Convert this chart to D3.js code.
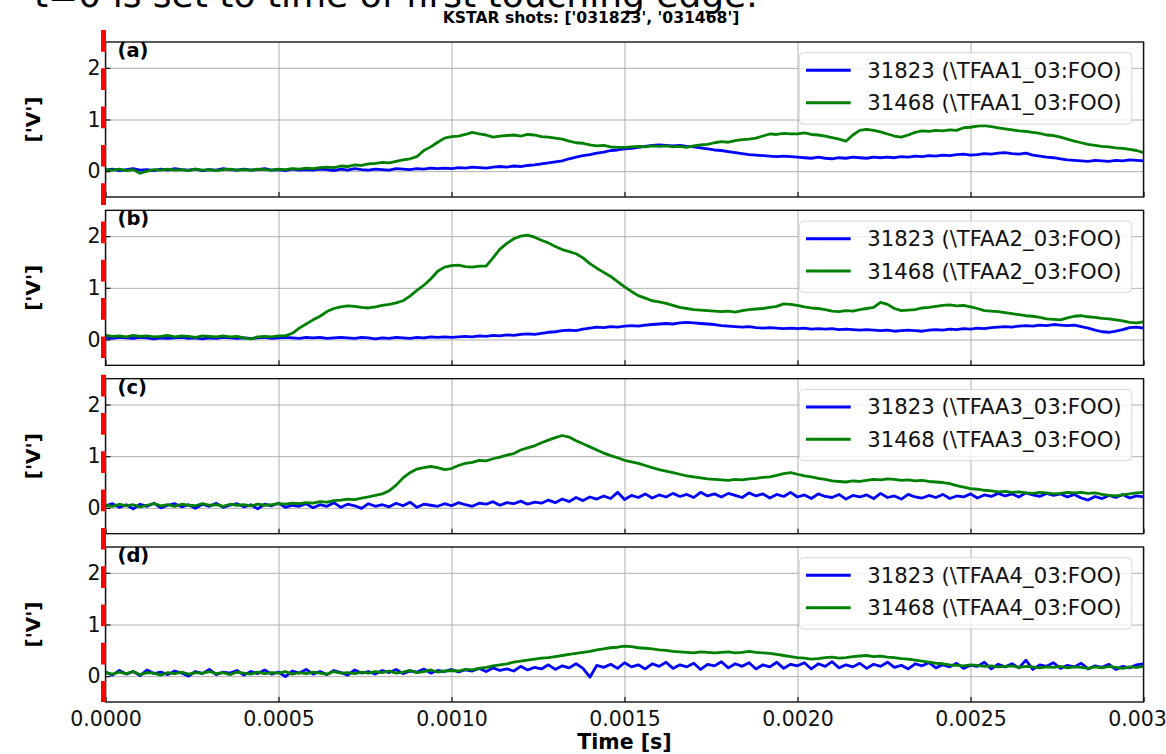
<!DOCTYPE html>
<html>
<head>
<meta charset="utf-8">
<script src="https://cdn.jsdelivr.net/npm/d3@7"></script>
<style>
  body { margin: 0; background: #fff; }
  svg { display: block; font-family: "DejaVu Sans", sans-serif; }
</style>
</head>
<body>
<svg id="fig" width="1166" height="754"></svg>
<script>
// Sampling interval of the stored traces (s); sample i sits at t = i * timeStep
const timeStep = 0.00002;

const channels = ["TFAA1_03", "TFAA2_03", "TFAA3_03", "TFAA4_03"];
const panelTags = ["(a)", "(b)", "(c)", "(d)"];
const shots = ["31823", "31468"];
const shotColors = ["#0000ff", "#008000"];
const xTicks = [0, 0.0005, 0.0010, 0.0015, 0.0020, 0.0025, 0.0030];
const yTicks = [0, 1, 2];

// TFAA1_03
const tfaa1_31823 = [
0.02,0.04,0.01,0.03,0.05,0.02,0.03,0.01,0.04,0.02,
0.05,0.03,0.02,0.04,0.01,0.03,0.02,0.05,0.03,0.02,
0.04,0.02,0.03,0.05,0.02,0.03,0.01,0.04,0.02,0.03,
0.02,0.04,0.03,0.01,0.04,0.02,0.05,0.03,0.02,0.04,
0.03,0.02,0.05,0.04,0.03,0.05,0.04,0.06,0.05,0.06,
0.05,0.07,0.06,0.08,0.07,0.06,0.08,0.09,0.08,0.10,
0.09,0.11,0.12,0.14,0.16,0.18,0.20,0.24,0.27,0.30,
0.32,0.35,0.37,0.40,0.41,0.43,0.44,0.46,0.48,0.50,
0.51,0.50,0.49,0.50,0.48,0.47,0.45,0.43,0.41,0.40,
0.38,0.36,0.34,0.32,0.31,0.30,0.29,0.28,0.29,0.28,
0.27,0.26,0.25,0.27,0.25,0.24,0.26,0.25,0.27,0.26,
0.25,0.27,0.26,0.27,0.26,0.28,0.27,0.29,0.28,0.30,
0.29,0.31,0.30,0.32,0.33,0.31,0.32,0.34,0.33,0.35,
0.36,0.34,0.33,0.35,0.31,0.29,0.27,0.26,0.24,0.22,
0.21,0.20,0.19,0.21,0.20,0.19,0.21,0.20,0.22,0.21,
0.20];
const tfaa1_31468 = [
0.03,0.02,0.04,0.01,0.03,-0.04,0.00,0.03,0.02,0.04,
0.02,0.03,0.01,0.04,0.02,0.03,0.01,0.03,0.04,0.02,
0.03,0.02,0.04,0.03,0.02,0.04,0.03,0.05,0.04,0.06,
0.05,0.07,0.08,0.07,0.10,0.09,0.12,0.11,0.14,0.15,
0.17,0.16,0.19,0.22,0.24,0.28,0.40,0.47,0.56,0.64,
0.67,0.68,0.71,0.75,0.72,0.70,0.66,0.68,0.69,0.70,
0.68,0.71,0.70,0.67,0.66,0.64,0.62,0.58,0.55,0.54,
0.51,0.49,0.50,0.47,0.46,0.46,0.47,0.48,0.47,0.49,
0.48,0.49,0.47,0.48,0.46,0.49,0.51,0.52,0.55,0.57,
0.56,0.59,0.61,0.62,0.64,0.68,0.72,0.71,0.73,0.72,
0.72,0.74,0.71,0.70,0.68,0.65,0.62,0.58,0.70,0.79,
0.81,0.79,0.76,0.72,0.68,0.66,0.70,0.75,0.78,0.77,
0.79,0.78,0.80,0.79,0.84,0.85,0.87,0.88,0.86,0.84,
0.82,0.80,0.78,0.77,0.75,0.73,0.70,0.69,0.66,0.62,
0.58,0.55,0.52,0.50,0.48,0.47,0.45,0.44,0.42,0.40,
0.36];

// TFAA2_03
const tfaa2_31823 = [
0.03,0.02,0.04,0.03,0.02,0.04,0.03,0.01,0.03,0.02,
0.03,0.04,0.02,0.03,0.01,0.03,0.02,0.04,0.03,0.02,
0.03,0.02,0.03,0.04,0.02,0.03,0.04,0.03,0.02,0.04,
0.03,0.04,0.02,0.03,0.04,0.03,0.02,0.04,0.03,0.01,
0.03,0.02,0.04,0.03,0.02,0.04,0.03,0.05,0.04,0.05,
0.04,0.05,0.06,0.05,0.07,0.06,0.08,0.07,0.09,0.08,
0.10,0.11,0.10,0.12,0.14,0.15,0.17,0.18,0.17,0.20,
0.22,0.24,0.23,0.25,0.24,0.26,0.27,0.26,0.28,0.29,
0.30,0.31,0.30,0.32,0.33,0.32,0.31,0.30,0.29,0.27,
0.26,0.25,0.24,0.25,0.23,0.22,0.23,0.22,0.21,0.22,
0.21,0.22,0.20,0.21,0.20,0.21,0.19,0.20,0.19,0.18,
0.19,0.18,0.17,0.18,0.16,0.17,0.18,0.17,0.16,0.18,
0.19,0.18,0.20,0.19,0.21,0.20,0.22,0.21,0.23,0.24,
0.25,0.24,0.26,0.27,0.26,0.28,0.27,0.29,0.28,0.27,
0.28,0.25,0.22,0.18,0.15,0.14,0.16,0.19,0.23,0.24,
0.22];
const tfaa2_31468 = [
0.08,0.06,0.07,0.05,0.08,0.06,0.07,0.05,0.06,0.08,
0.05,0.07,0.06,0.04,0.07,0.06,0.05,0.07,0.05,0.06,
0.03,0.01,0.05,0.06,0.05,0.07,0.07,0.12,0.22,0.30,
0.38,0.45,0.54,0.60,0.63,0.65,0.64,0.62,0.61,0.63,
0.66,0.68,0.71,0.75,0.84,0.95,1.05,1.17,1.32,1.40,
1.43,1.44,1.41,1.40,1.42,1.42,1.58,1.75,1.86,1.95,
2.00,2.02,1.98,1.92,1.87,1.80,1.74,1.70,1.66,1.58,
1.47,1.38,1.30,1.22,1.12,1.02,0.93,0.85,0.80,0.75,
0.73,0.70,0.66,0.62,0.60,0.58,0.57,0.56,0.55,0.54,
0.55,0.53,0.56,0.58,0.59,0.60,0.62,0.64,0.69,0.68,
0.66,0.63,0.61,0.60,0.58,0.55,0.54,0.56,0.55,0.58,
0.60,0.62,0.72,0.68,0.60,0.56,0.57,0.58,0.61,0.62,
0.64,0.66,0.67,0.65,0.66,0.63,0.60,0.56,0.55,0.54,
0.52,0.50,0.48,0.46,0.45,0.43,0.40,0.39,0.38,0.42,
0.45,0.46,0.44,0.43,0.41,0.40,0.38,0.36,0.33,0.32,
0.34];

// TFAA3_03
const tfaa3_31823 = [
0.04,0.08,0.01,0.06,-0.02,0.07,0.03,0.09,0.00,0.05,
0.08,0.02,0.06,-0.01,0.07,0.03,0.09,0.01,0.05,0.08,
0.02,0.06,-0.02,0.07,0.04,0.09,0.01,0.05,0.03,0.08,
0.00,0.06,0.03,0.10,0.01,0.07,0.04,-0.01,0.08,0.03,
0.06,0.02,0.09,0.04,0.11,0.01,0.07,0.05,0.03,0.08,
0.04,0.10,0.06,0.03,0.09,0.07,0.12,0.05,0.10,0.08,
0.13,0.07,0.11,0.09,0.15,0.10,0.17,0.12,0.20,0.14,
0.21,0.17,0.23,0.18,0.30,0.16,0.24,0.20,0.27,0.19,
0.25,0.21,0.28,0.22,0.26,0.20,0.30,0.23,0.27,0.21,
0.28,0.24,0.20,0.29,0.23,0.27,0.19,0.26,0.22,0.30,
0.21,0.25,0.18,0.27,0.22,0.20,0.26,0.17,0.24,0.21,
0.25,0.18,0.28,0.20,0.23,0.17,0.26,0.21,0.19,0.24,
0.20,0.26,0.18,0.23,0.21,0.27,0.19,0.25,0.22,0.28,
0.23,0.27,0.21,0.29,0.25,0.22,0.28,0.24,0.27,0.21,
0.26,0.19,0.15,0.22,0.18,0.24,0.20,0.26,0.19,0.23,
0.21];
const tfaa3_31468 = [
0.05,0.03,0.07,0.04,0.06,0.02,0.05,0.08,0.04,0.06,
0.03,0.07,0.05,0.04,0.08,0.05,0.06,0.03,0.07,0.05,
0.06,0.04,0.07,0.05,0.06,0.08,0.07,0.09,0.08,0.10,
0.09,0.12,0.11,0.14,0.15,0.17,0.16,0.19,0.21,0.24,
0.27,0.33,0.44,0.58,0.68,0.75,0.78,0.80,0.78,0.74,
0.76,0.82,0.86,0.88,0.92,0.91,0.95,0.98,1.02,1.05,
1.12,1.16,1.20,1.26,1.31,1.36,1.40,1.37,1.30,1.24,
1.18,1.12,1.06,1.01,0.97,0.92,0.89,0.86,0.82,0.78,
0.74,0.71,0.68,0.65,0.62,0.60,0.58,0.56,0.55,0.54,
0.53,0.55,0.54,0.56,0.57,0.59,0.60,0.63,0.66,0.68,
0.65,0.62,0.60,0.57,0.55,0.52,0.51,0.50,0.52,0.51,
0.53,0.55,0.54,0.56,0.55,0.53,0.54,0.52,0.53,0.51,
0.50,0.49,0.47,0.43,0.40,0.37,0.36,0.34,0.33,0.31,
0.32,0.30,0.31,0.29,0.28,0.30,0.29,0.27,0.28,0.30,
0.29,0.30,0.28,0.29,0.26,0.24,0.23,0.25,0.27,0.29,
0.30];

// TFAA4_03
const tfaa4_31823 = [
0.08,0.02,0.11,0.04,0.09,0.01,0.12,0.05,0.08,0.03,
0.10,0.06,0.00,0.09,0.05,0.13,0.03,0.08,0.06,0.11,
0.02,0.09,0.05,0.12,0.04,0.08,-0.01,0.10,0.06,0.13,
0.04,0.09,0.03,0.11,0.07,0.02,0.12,0.06,0.09,0.04,
0.11,0.07,0.13,0.05,0.10,0.08,0.14,0.06,0.11,0.09,
0.13,0.08,0.12,0.10,0.15,0.09,0.16,0.11,0.14,0.10,
0.19,0.12,0.17,0.14,0.22,0.13,0.20,0.16,0.24,0.15,
-0.02,0.21,0.17,0.23,0.15,0.26,0.18,0.22,0.14,0.24,
0.19,0.27,0.15,0.22,0.18,0.25,0.13,0.23,0.20,0.28,
0.16,0.24,0.19,0.26,0.14,0.22,0.18,0.27,0.15,0.23,
0.20,0.26,0.14,0.24,0.19,0.28,0.16,0.22,0.18,0.25,
0.15,0.23,0.19,0.27,0.17,0.21,0.14,0.24,0.20,0.26,
0.16,0.22,0.18,0.25,0.15,0.21,0.19,0.27,0.14,0.23,
0.18,0.24,0.16,0.31,0.13,0.22,0.19,0.26,0.15,0.21,
0.18,0.25,0.14,0.20,0.17,0.23,0.13,0.19,0.16,0.22,
0.24];
const tfaa4_31468 = [
0.07,0.04,0.08,0.05,0.09,0.03,0.07,0.06,0.02,0.07,
0.05,0.08,0.04,0.07,0.06,0.09,0.05,0.07,0.03,0.08,
0.06,0.04,0.08,0.05,0.07,0.06,0.09,0.04,0.07,0.05,
0.08,0.06,0.04,0.09,0.06,0.07,0.05,0.08,0.06,0.09,
0.07,0.10,0.06,0.08,0.11,0.07,0.09,0.12,0.08,0.10,
0.11,0.10,0.13,0.12,0.15,0.17,0.20,0.22,0.24,0.27,
0.29,0.31,0.33,0.35,0.36,0.38,0.40,0.42,0.44,0.46,
0.48,0.51,0.53,0.55,0.56,0.58,0.57,0.55,0.54,0.53,
0.51,0.50,0.48,0.47,0.46,0.45,0.47,0.46,0.45,0.46,
0.47,0.45,0.46,0.48,0.46,0.45,0.44,0.42,0.40,0.38,
0.36,0.35,0.33,0.34,0.36,0.37,0.35,0.36,0.38,0.39,
0.40,0.38,0.39,0.37,0.36,0.34,0.33,0.31,0.29,0.27,
0.25,0.24,0.22,0.21,0.20,0.22,0.21,0.19,0.20,0.18,
0.19,0.20,0.17,0.19,0.18,0.16,0.18,0.17,0.19,0.16,
0.18,0.17,0.15,0.18,0.16,0.19,0.17,0.15,0.18,0.17,
0.19];

const traces = [
  [tfaa1_31823, tfaa1_31468],
  [tfaa2_31823, tfaa2_31468],
  [tfaa3_31823, tfaa3_31468],
  [tfaa4_31823, tfaa4_31468]
];

const svg = d3.select("#fig");
const plotLeft = 105.5, plotRight = 1143.5, panelH = 155;
const panelTops = [42, 210.33, 378.67, 547];

const x = d3.scaleLinear().domain([0, 0.003]).range([plotLeft, plotRight]);

// figure-level headings
svg.append("text")
  .attr("x", 34).attr("y", 7)
  .attr("font-size", 36).attr("fill", "#000")
  .text("t=0 is set to time of first touching edge.");
svg.append("text")
  .attr("x", 591).attr("y", 23)
  .attr("text-anchor", "middle")
  .attr("font-size", 15.6).attr("font-weight", "bold")
  .text("KSTAR shots: ['031823', '031468']");

const defs = svg.append("defs");

panelTops.forEach((top, p) => {
  const y = d3.scaleLinear().domain([-0.5, 2.5]).range([top + panelH, top]);
  const g = svg.append("g");

  defs.append("clipPath").attr("id", "clip" + p)
    .append("rect")
    .attr("x", plotLeft).attr("y", top)
    .attr("width", plotRight - plotLeft).attr("height", panelH);

  // grid
  const gx = g.append("g")
    .attr("transform", `translate(0,${top + panelH})`)
    .call(d3.axisBottom(x).tickValues(xTicks).tickSize(-panelH).tickFormat(""));
  const gy = g.append("g")
    .attr("transform", `translate(${plotLeft},0)`)
    .call(d3.axisLeft(y).tickValues(yTicks).tickSize(-(plotRight - plotLeft)).tickFormat(""));
  [gx, gy].forEach(a => {
    a.select(".domain").remove();
    a.selectAll(".tick line").attr("stroke", "#b0b0b0").attr("stroke-width", 1);
  });

  // traces
  const line = d3.line()
    .x((d, i) => x(i * timeStep))
    .y(d => y(d));
  const lines = g.append("g").attr("clip-path", `url(#clip${p})`);
  traces[p].forEach((vals, s) => {
    lines.append("path")
      .datum(vals)
      .attr("d", line)
      .attr("fill", "none")
      .attr("stroke", shotColors[s])
      .attr("stroke-width", 2.8)
      .attr("stroke-linejoin", "round");
  });

  // frame
  g.append("rect")
    .attr("x", plotLeft).attr("y", top)
    .attr("width", plotRight - plotLeft).attr("height", panelH)
    .attr("fill", "none").attr("stroke", "#111").attr("stroke-width", 1.4);

  // inward ticks and tick labels
  const isLast = p === panelTops.length - 1;
  const ax = g.append("g")
    .attr("transform", `translate(0,${top + panelH})`)
    .call(d3.axisBottom(x).tickValues(xTicks).tickSizeInner(-5).tickSizeOuter(0)
      .tickPadding(9).tickFormat(isLast ? d3.format(".4f") : () => ""));
  const ay = g.append("g")
    .attr("transform", `translate(${plotLeft},0)`)
    .call(d3.axisLeft(y).tickValues(yTicks).tickSizeInner(-5).tickSizeOuter(0)
      .tickPadding(5).tickFormat(d3.format("d")));
  [ax, ay].forEach(a => {
    a.select(".domain").remove();
    a.selectAll(".tick line").attr("stroke", "#111").attr("stroke-width", 1.2);
    a.selectAll(".tick text")
      .attr("font-family", "DejaVu Sans, sans-serif")
      .attr("font-size", 20.5).attr("fill", "#111");
  });

  // y label
  svg.append("text")
    .attr("transform", `translate(32.5,${top + panelH / 2}) rotate(-90)`)
    .attr("text-anchor", "middle")
    .attr("dominant-baseline", "central")
    .attr("font-size", 20).attr("font-weight", "bold")
    .text("['V']");

  // panel tag
  g.append("text")
    .attr("x", 117.5).attr("y", top + 15)
    .attr("font-size", 19.5).attr("font-weight", "bold")
    .text(panelTags[p]);

  // legend
  const lg = g.append("g").attr("transform", `translate(799.3,${top + 10.7})`);
  lg.append("rect")
    .attr("width", 332.5).attr("height", 71.3).attr("rx", 4)
    .attr("fill", "#fff").attr("fill-opacity", 0.8)
    .attr("stroke", "#d6d6d6").attr("stroke-width", 1);
  shots.forEach((shot, s) => {
    const ly = 17.6 + s * 32.4;
    lg.append("line")
      .attr("x1", 6.7).attr("x2", 51.4).attr("y1", ly).attr("y2", ly)
      .attr("stroke", shotColors[s]).attr("stroke-width", 3);
    lg.append("text")
      .attr("x", 68).attr("y", ly)
      .attr("dominant-baseline", "central")
      .attr("font-size", 21.2).attr("fill", "#111")
      .text(`${shot} (\\${channels[p]}:FOO)`);
  });
});

// x label
svg.append("text")
  .attr("x", (plotLeft + plotRight) / 2).attr("y", 749)
  .attr("text-anchor", "middle")
  .attr("font-size", 20.5).attr("font-weight", "bold")
  .text("Time [s]");

// t = 0 marker
svg.append("line")
  .attr("x1", 103.5).attr("x2", 103.5)
  .attr("y1", 30).attr("y2", 702)
  .attr("stroke", "#ff0000").attr("stroke-width", 5)
  .attr("stroke-dasharray", "21.7 16.6");
</script>
</body>
</html>
